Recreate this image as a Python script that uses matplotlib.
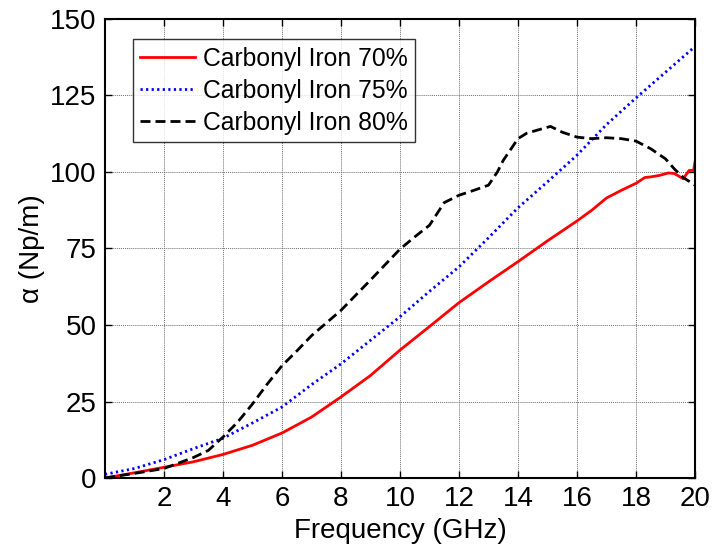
import numpy as np
import matplotlib.pyplot as plt

plt.rcParams['font.family'] = ['Liberation Sans', 'DejaVu Sans']

# Carbonyl Iron 70%
f70 = [0, 1, 2, 3, 4, 5, 6, 7, 8, 9, 10, 11, 12, 13, 14, 15, 16, 16.5, 17,
       17.5, 18, 18.3, 18.5, 18.8, 19.1, 19.3, 19.6, 19.8, 19.95, 20]
a70 = [0, 1.7, 3.5, 5.3, 7.7, 10.7, 14.7, 19.9, 26.5, 33.5, 41.8, 49.5, 57.3,
       64.1, 70.7, 77.5, 84, 87.5, 91.5, 94, 96.3, 98.2, 98.4, 98.9, 99.7,
       99.5, 97.8, 100.5, 100.5, 103.3]

# Carbonyl Iron 75%
f75 = [0, 1, 2, 3, 4, 5, 6, 7, 8, 9, 10, 11, 12, 13, 14, 15, 16, 17, 18, 19, 20]
a75 = [1.2, 3.1, 6, 9.6, 13, 18, 23.2, 30.5, 37.3, 45, 52.7, 61, 69, 78.5,
       88.3, 96.8, 105.5, 115.5, 124.2, 132.6, 141]

# Carbonyl Iron 80%
f80 = [0, 1, 2, 3, 3.5, 4, 4.5, 5, 5.5, 6, 6.5, 7, 8, 9, 10, 10.5, 11, 11.5,
       12, 12.5, 13, 13.3, 13.5, 14, 14.3, 14.7, 15.1, 15.5, 16, 16.5, 17,
       17.5, 18, 18.5, 19, 19.3, 19.6, 20]
a80 = [0, 1.5, 3.1, 6.7, 9, 13.4, 18.3, 24.2, 30.7, 36.7, 41.5, 46.5, 54.8,
       64.7, 74.8, 78.8, 82.6, 90, 92.4, 94, 95.7, 100, 103.8, 110.9, 112.7,
       113.8, 114.9, 113, 111.4, 110.9, 111.2, 110.9, 110.1, 107.6, 104.3,
       101, 98.2, 95.7]

labels = ['Carbonyl Iron 70%', 'Carbonyl Iron 75%', 'Carbonyl Iron 80%']

fig = plt.figure(figsize=(7.14, 5.5), dpi=100)
ax = fig.add_axes([105/714, 72/550, 590/714, 459/550])

ax.plot(f70, a70, color='#ff0000', lw=2, label=labels[0])
ax.plot(f75, a75, color='#0000ff', lw=2, linestyle=(0, (0.8, 1.2)), label=labels[1])
ax.plot(f80, a80, color='black', lw=2, linestyle=(0, (3.6, 1.8)), label=labels[2])

ax.set_xlim(0, 20)
ax.set_ylim(0, 150)
ax.set_xticks(range(2, 21, 2))
ax.set_yticks(range(0, 151, 25))
ax.grid(True, linestyle=(0, (1, 1)), color='#707070', linewidth=0.7)
ax.tick_params(direction='in', top=True, right=True, length=5, width=1,
               labelsize=20, pad=6)
for s in ax.spines.values():
    s.set_linewidth(1.5)

ax.set_xlabel('Frequency (GHz)', fontsize=20, labelpad=4)
ax.set_ylabel('α (Np/m)', fontsize=20, labelpad=4)

leg = ax.legend(loc='upper left', bbox_to_anchor=(0.047, 0.956), fontsize=17.8,
                frameon=True, fancybox=False, handlelength=2.2,
                handletextpad=0.35, labelspacing=0.33, borderpad=0.3,
                borderaxespad=0)
leg.get_frame().set_edgecolor('black')
leg.get_frame().set_linewidth(1)

fig.savefig('out.png', dpi=100)
